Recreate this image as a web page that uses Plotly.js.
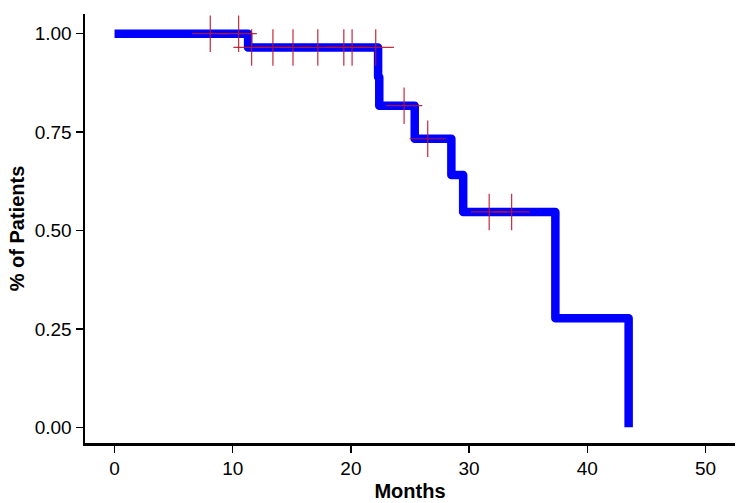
<!DOCTYPE html>
<html>
<head>
<meta charset="utf-8">
<script src="https://cdn.plot.ly/plotly-3.0.1.min.js"></script>
<style>
html, body { margin: 0; padding: 0; background: #fff; }
#chart { width: 740px; height: 503px; }
.js-line { stroke-linejoin: round; stroke-linecap: butt; }
</style>
</head>
<body>
<div id="chart"></div>
<script>
// Kaplan-Meier step data (months, survival proportion)
var eventMonths = [0, 11.3, 22.3, 22.4, 25.4, 28.5, 29.5, 37.3, 43.5];
var survival    = [1.0, 0.965, 0.89, 0.817, 0.733, 0.641, 0.547, 0.277, 0.0];

// Censored observations
var censorMonths = [8.1, 10.5, 11.6, 13.4, 15.1, 17.2, 19.4, 20.1, 22.1, 24.5, 26.5, 31.7, 33.6];
var censorSurv   = [1.0, 1.0, 0.965, 0.965, 0.965, 0.965, 0.965, 0.965, 0.965, 0.817, 0.733, 0.547, 0.547];

var xTicks = [0, 10, 20, 30, 40, 50];
var yTicks = [0, 0.25, 0.5, 0.75, 1.0];
var yTickLabels = ['0.00', '0.25', '0.50', '0.75', '1.00'];

var traces = [
  {
    x: eventMonths, y: survival, type: 'scatter', mode: 'lines',
    line: { shape: 'hv', color: '#0000ff', width: 8.5 },
    hoverinfo: 'skip', showlegend: false
  },
  {
    x: censorMonths, y: censorSurv, type: 'scatter', mode: 'markers',
    marker: { symbol: 'cross-thin-open', size: 26, color: 'rgba(190,20,40,0.9)',
              line: { color: 'rgba(190,20,40,0.9)', width: 1.2 } },
    hoverinfo: 'skip', showlegend: false
  }
];

var tickFont = { family: 'Liberation Sans, Arial, sans-serif', size: 19, color: '#000' };
var titleFont = { family: 'Liberation Sans, Arial, sans-serif', size: 20, color: '#000', weight: 'bold' };

var layout = {
  width: 740, height: 503,
  margin: { l: 85, r: 5, t: 14, b: 60 },
  paper_bgcolor: '#fff', plot_bgcolor: '#fff',
  xaxis: {
    range: [-2.5, 52.5], tickvals: xTicks, ticktext: xTicks.map(String),
    showgrid: false, zeroline: false, showline: true, linecolor: '#000', linewidth: 2.5,
    ticks: 'outside', ticklen: 7, tickwidth: 1.5, tickcolor: '#000',
    tickfont: tickFont,
    title: { text: '<b>Months</b>', font: titleFont, standoff: 6 }
  },
  yaxis: {
    range: [-0.04, 1.05], tickvals: yTicks, ticktext: yTickLabels,
    showgrid: false, zeroline: false, showline: true, linecolor: '#000', linewidth: 2.5,
    ticks: 'outside', ticklen: 7, tickwidth: 1.5, tickcolor: '#000',
    tickfont: tickFont,
    title: { text: '<b>% of Patients</b>', font: titleFont, standoff: 5 }
  }
};

Plotly.newPlot('chart', traces, layout, { staticPlot: true, displayModeBar: false });
</script>
</body>
</html>
